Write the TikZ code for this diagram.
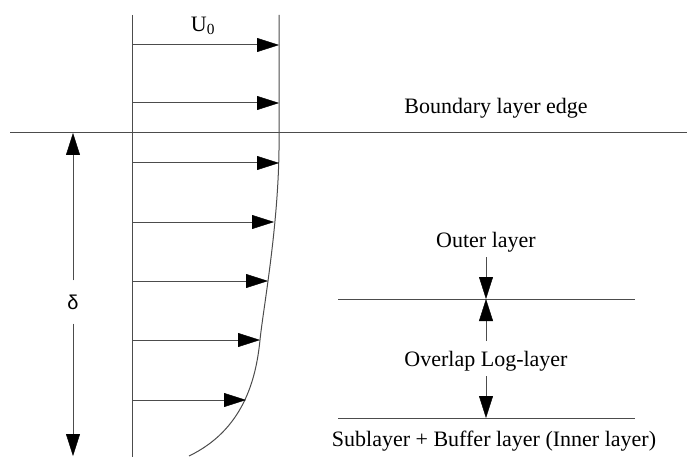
\documentclass[tikz,border=0pt]{standalone}
\usepackage{fontspec}
\setmainfont{Liberation Serif}
\newfontfamily\symfont{Liberation Sans}
\usetikzlibrary{arrows.meta}
\tikzset{
  ln/.style={draw=black!70, line width=1pt},
  hd/.tip={Triangle[length=22pt,width=14pt,fill=black,color=black,line width=0.4pt]},
  arr/.style={ln, -hd},
  lbl/.style={inner sep=0pt, font=\fontsize{22}{25}\selectfont}
}
\begin{document}
\begin{tikzpicture}[x=1pt,y=-1pt]
\useasboundingbox (0,0) rectangle (687,457);
% wall
\coordinate (w0) at (132,15);
\coordinate (w1) at (132,457);
\draw[ln] (w0) -- (w1);
% boundary layer edge
\coordinate (e0) at (10,133);
\coordinate (e1) at (687,133);
\draw[ln] (e0) -- (e1);
% profile
\coordinate (p0) at (279,15);
\coordinate (p1) at (279,150);
\coordinate (p2) at (260,340);
\coordinate (p3) at (189,456);
\draw[ln] (p0) -- (p1) .. controls (278,230) and (263,310) .. (p2)
  .. controls (256,380) and (243,430) .. (p3);
% velocity arrows
\foreach \y/\x [count=\i] in {45/279,103/279,163/279,222/274,281/268,340/260,400/246}{
  \coordinate (a\i) at (132,\y);
  \coordinate (b\i) at (\x,\y);
  \draw[arr] (a\i) -- (b\i);
}
\node[lbl] (U) at (203,26) {U\textsubscript{0}};
\node[lbl] (ble) at (496,108) {Boundary layer edge};
% delta
\node[inner sep=0pt, font=\symfont\fontsize{20}{22}\selectfont] (delta) at (73,302) {δ};
\coordinate (d0) at (73,133);
\coordinate (d1) at (73,456);
\draw[arr] (delta.north) ++(0,-14) -- (d0);
\draw[arr] (delta.south) ++(0,14) -- (d1);
% layers
\coordinate (l0) at (338,299);
\coordinate (l1) at (635,299);
\coordinate (m0) at (338,418);
\coordinate (m1) at (635,418);
\draw[ln] (l0) -- (l1);
\draw[ln] (m0) -- (m1);
\node[lbl] (outer) at (486,242) {Outer layer};
\node[lbl] (overlap) at (486,361) {Overlap Log-layer};
\node[lbl] (inner) at (494,441) {Sublayer + Buffer layer (Inner layer)};
\coordinate (c1) at (486,299);
\coordinate (c2) at (486,418);
\draw[arr] (486,257) -- (c1);
\draw[arr] (486,341) -- (c1);
\draw[arr] (486,376) -- (c2);
\end{tikzpicture}
\end{document}
